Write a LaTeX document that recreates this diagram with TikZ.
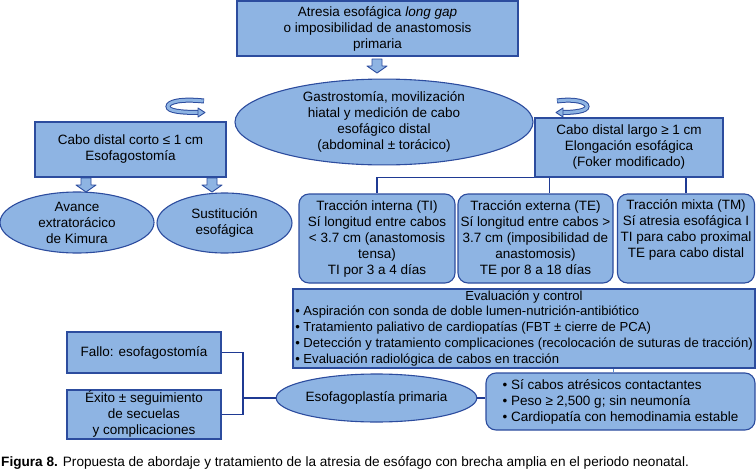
\documentclass[tikz,border=0pt]{standalone}
\usepackage{fontspec}
\setmainfont{Liberation Sans}
\usetikzlibrary{shapes.geometric,calc}
\definecolor{boxfill}{RGB}{142,180,227}
\definecolor{boxline}{RGB}{44,76,158}
\definecolor{conn}{RGB}{31,58,147}
\definecolor{thinconn}{RGB}{90,140,210}
\tikzset{
 base/.style={draw=boxline, fill=boxfill, line width=1.1pt, inner sep=0pt, align=center, font=\fontsize{13.5}{16}\selectfont},
 sqbox/.style={base, rectangle},
 rbox/.style={base, rectangle, rounded corners=10pt},
 ell/.style={base, ellipse},
 link/.style={draw=conn, line width=1.5pt},
 thinlink/.style={draw=thinconn, line width=0.8pt},
 blk/.style={draw=boxline, fill=boxfill, line width=0.9pt, line join=round},
}
\newcommand\blkdown[3]{%
 \filldraw[blk] (#1-5,#2) -- (#1+5,#2) -- (#1+5,#3-7) -- (#1+10,#3-7) -- (#1,#3) -- (#1-10,#3-7) -- (#1-5,#3-7) -- cycle;}
\begin{document}
\begin{tikzpicture}[x=1pt,y=-1pt]
\useasboundingbox (0,0) rectangle (756,474);

% top box
\node[sqbox, minimum width=281pt, minimum height=55pt] (top) at (377.5,28.5)
 {Atresia esofágica \textit{long gap}\\o imposibilidad de anastomosis\\primaria};
\blkdown{377}{59}{73}

% central ellipse
\node[ell, minimum width=298pt, minimum height=84pt] (gas) at (384,122)
 {Gastrostomía, movilización\\hiatal y medición de cabo\\esofágico distal\\(abdominal ± torácico)};

% left branch
\node[sqbox, minimum width=191pt, minimum height=55pt] (corto) at (130.5,149.5)
 {Cabo distal corto ≤ 1 cm\\Esofagostomía};
\blkdown{86}{178}{192}
\blkdown{212}{178}{192}
\node[ell, minimum width=154pt, minimum height=61pt] (kim) at (77,222.5)
 {Avance\\extratorácico\\de Kimura};
\node[ell, minimum width=135pt, minimum height=60pt] (sus) at (224.5,223)
 {Sustitución\\esofágica};

% curved arrows
\draw[boxline, line width=5pt] (204,101) .. controls (180,98.5) and (168,102) .. (168,106.5) .. controls (168,111) and (180,112.5) .. (199,112.5);
\draw[boxfill, line width=3pt] (203.5,101) .. controls (180,98.5) and (168,102) .. (168,106.5) .. controls (168,111) and (180,112.5) .. (199.5,112.5);
\filldraw[blk] (198,108) -- (205,112.5) -- (198,117) -- cycle;

\draw[boxline, line width=5pt] (557,101) .. controls (575,98.5) and (587,102) .. (587,106.5) .. controls (587,111) and (575,112.5) .. (562,112.5);
\draw[boxfill, line width=3pt] (557.5,101) .. controls (575,98.5) and (587,102) .. (587,106.5) .. controls (587,111) and (575,112.5) .. (561.5,112.5);
\filldraw[blk] (563,108) -- (556,112.5) -- (563,117) -- cycle;

% right branch
\node[sqbox, minimum width=188pt, minimum height=59pt] (largo) at (629,147.5)
 {Cabo distal largo ≥ 1 cm\\Elongación esofágica\\(Foker modificado)};

\node[rbox, minimum width=156pt, minimum height=89pt] (ti) at (377,238.5)
 {Tracción interna (TI)\\Sí longitud entre cabos\\< 3.7 cm (anastomosis\\tensa)\\TI por 3 a 4 días};
\node[rbox, minimum width=155pt, minimum height=89pt] (te) at (535.5,238.5)
 {Tracción externa (TE)\\Sí longitud entre cabos >\\3.7 cm (imposibilidad de\\anastomosis)\\TE por 8 a 18 días};
\node[rbox, minimum width=137pt, minimum height=89pt] (tm) at (686,238.5)
 {Tracción mixta (TM)\\Sí atresia esofágica I\\TI para cabo proximal\\TE para cabo distal\\\strut};

\draw[link] (largo.south west) -| (ti.north);
\draw[link] ([xshift=15pt]largo.south west) -- ([xshift=15pt]largo.south west |- te.north);
\draw[link] (largo.south -| tm.north) -- (tm.north);

% evaluation
\node[sqbox, minimum width=462pt, minimum height=79pt, font=\fontsize{13.1}{15.8}\selectfont] (eval) at (524,328.5)
 {\begin{tabular}{@{}l@{}}\multicolumn{1}{@{}c@{}}{Evaluación y control}\\
 • Aspiración con sonda de doble lumen-nutrición-antibiótico\\
 • Tratamiento paliativo de cardiopatías (FBT ± cierre de PCA)\\
 • Detección y tratamiento complicaciones (recolocación de suturas de tracción)\\
 • Evaluación radiológica de cabos en tracción\end{tabular}};

\node[rbox, minimum width=269pt, minimum height=57pt, align=left] (crit) at (620.5,401.5)
 {• Sí cabos atrésicos contactantes\\• Peso ≥ 2,500 g; sin neumonía\\• Cardiopatía con hemodinamia estable};

\draw[thinlink] ([xshift=-7pt]crit.north) -- ([xshift=-7pt]crit.north |- eval.south);

\node[ell, minimum width=173pt, minimum height=48pt] (eso) at (376.5,398)
 {Esofagoplastía primaria};
\draw[link] (eso.east) -- (eso.east -| crit.west);

\node[sqbox, minimum width=154pt, minimum height=41pt] (fallo) at (144,352.5)
 {Fallo: esofagostomía};
\node[sqbox, minimum width=154pt, minimum height=49pt] (exito) at (144,414.5)
 {Éxito ± seguimiento\\de secuelas\\y complicaciones};

\coordinate (j) at (243,398);
\draw[link] (fallo.east) -| (j) |- (exito.east);
\draw[link] (j) -- (eso.west);

\node[anchor=base west, inner sep=0pt, font=\fontsize{13.6}{15}\selectfont] (cap) at (1,466)
 {\textbf{Figura 8.} Propuesta de abordaje y tratamiento de la atresia de esófago con brecha amplia en el periodo neonatal.};
\end{tikzpicture}
\end{document}
